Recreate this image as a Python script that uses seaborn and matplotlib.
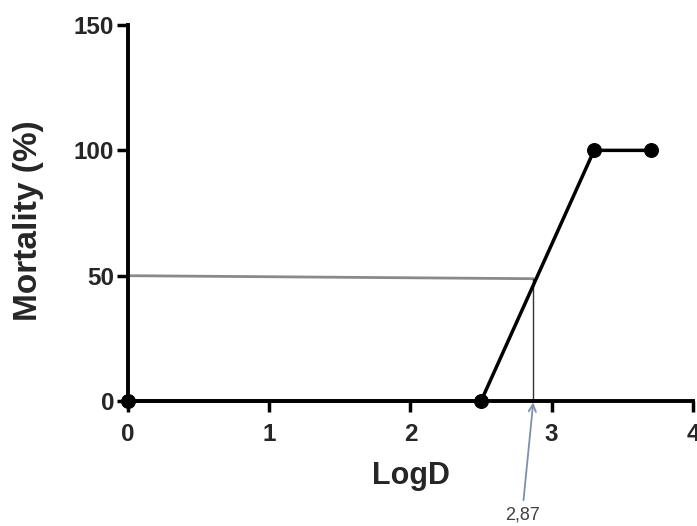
import numpy as np
import pandas as pd
import seaborn as sns
import matplotlib.pyplot as plt

#%% data

logd = [0, 2.5, 3.3, 3.7]
mortality = [0, 0, 100, 100]
ld50_x = 2.87
ld50_y = 50
ld50_label = "2,87"

data = pd.DataFrame({"LogD": logd, "Mortality": mortality})

#%% plot

sns.set_style("ticks")
plt.rcParams["font.family"] = ["Liberation Sans", "DejaVu Sans"]

fig = plt.figure(figsize=(6.97, 5.26), dpi=100)
ax = fig.add_axes([0.1836, 0.2376, 0.8106, 0.7148])

# guide lines to the 50% point
ax.plot([0, ld50_x], [ld50_y, ld50_y - 1.2], color="#8a8a8a", lw=2.0, zorder=1)
ax.plot([ld50_x, ld50_x], [ld50_y - 1.2, 0], color="#333333", lw=1.0, zorder=1)

sns.lineplot(data=data, x="LogD", y="Mortality", ax=ax, color="black",
             lw=2.5, marker="o", markersize=10, markeredgecolor="black",
             clip_on=False, zorder=3)

ax.set_xlim(0, 4)
ax.set_ylim(0, 150)
ax.set_xticks([0, 1, 2, 3, 4])
ax.set_yticks([0, 50, 100, 150])

for side in ["top", "right"]:
    ax.spines[side].set_visible(False)
for side in ["left", "bottom"]:
    ax.spines[side].set_linewidth(2.8)
    ax.spines[side].set_color("black")
ax.tick_params(width=2.5, length=8, color="black", labelsize=17.5)
ax.tick_params(axis="x", pad=8)
ax.tick_params(axis="y", pad=2)
for lab in ax.get_xticklabels() + ax.get_yticklabels():
    lab.set_fontweight("bold")

ax.set_xlabel("LogD", fontsize=22, fontweight="bold")
ax.set_ylabel("Mortality (%)", fontsize=24, fontweight="bold")
ax.xaxis.set_label_coords(0.5, -0.16)
ax.yaxis.set_label_coords(-0.149, 0.479)

ax.annotate(ld50_label, xy=(ld50_x, 0), xycoords="data",
            xytext=(ld50_x - 0.08, -48.8), textcoords="data",
            ha="center", va="bottom", fontsize=13, color="#404040",
            annotation_clip=False,
            arrowprops=dict(arrowstyle="->", color="#7d90ad", lw=1.3,
                            shrinkA=2, shrinkB=1))

plt.savefig("out.png", dpi=100)
